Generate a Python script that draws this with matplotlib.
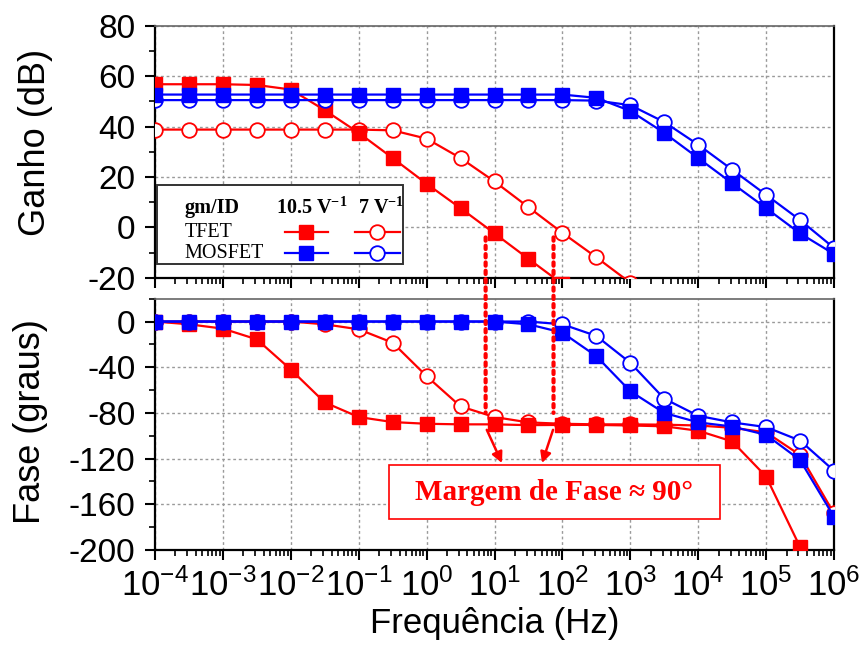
import matplotlib
matplotlib.use("Agg")
import matplotlib.pyplot as plt
from matplotlib.ticker import MultipleLocator, LogLocator, NullFormatter
from matplotlib.patches import Rectangle, ConnectionPatch
from matplotlib.lines import Line2D

plt.rcParams['font.family'] = ['Liberation Sans', 'DejaVu Sans']
plt.rcParams['axes.unicode_minus'] = False

# Frequency grid (Hz), half-decade steps
freq = [1e-4, 3.16e-4, 1e-3, 3.16e-3, 1e-2, 3.16e-2, 1e-1, 3.16e-1, 1, 3.16,
        10, 31.6, 100, 316, 1e3, 3.16e3, 1e4, 3.16e4, 1e5, 3.16e5, 1e6]

# Gain (dB)
gain_tfet_105 = [56.8, 56.8, 56.8, 56.5, 54.7, 46.5, 37.5, 27.5, 17.3, 7.6,
                 -2.4, -12.5, -22.5]
gain_tfet_7 = [38.8, 38.8, 38.8, 38.8, 38.8, 38.8, 38.8, 38.5, 35.2, 27.5,
               18.2, 8.0, -2.2, -11.9, -22.0]
gain_mos_105 = [52.7, 52.7, 52.7, 52.7, 52.7, 52.7, 52.7, 52.7, 52.7, 52.7,
                52.7, 52.7, 52.7, 51.4, 46.2, 37.5, 27.5, 17.5, 7.6, -2.4, -10.6]
gain_mos_7 = [50.5, 50.5, 50.5, 50.5, 50.5, 50.5, 50.5, 50.5, 50.5, 50.5,
              50.5, 50.5, 50.5, 50.3, 48.5, 41.8, 32.8, 22.9, 12.9, 2.9, -8.2]

# Phase (degrees)
phase_tfet_105 = [0, -2.4, -6.2, -15.6, -42.0, -70.8, -83.6, -88.0, -89.5, -90.0,
                  -90.0, -90.7, -90.5, -90.5, -91.0, -91.7, -95.6, -104.9, -135.7, -197.3]
phase_tfet_7 = [0, 0, 0, 0, 0, -2.4, -6.8, -18.5, -47.8, -74.3,
                -83.6, -88.3, -89.5, -90.0, -90.0, -90.3, -91.0, -93.0, -97.0, -116.8, -168.0]
phase_mos_105 = [0, 0, 0, 0, 0, 0, 0, 0, 0, 0,
                 0, -2.4, -9.7, -30.3, -61.0, -80.0, -88.3, -91.9, -99.2, -121.2, -171.0]
phase_mos_7 = [0, 0, 0, 0, 0, 0, 0, 0, 0, 0,
               0, 0, -2.4, -12.6, -36.1, -67.5, -82.5, -88.3, -92.4, -104.2, -130.6]

# Unity-gain frequencies marked on the chart (Hz)
unity_freq = [7.4, 74]

RED = '#ff0000'
BLUE = '#0000ff'
LW = 1.6
MS_SQ = 9.5
MS_CI = 10.5

fig = plt.figure(figsize=(8.64, 6.48), dpi=100)
W, H = 864.0, 648.0
ax1 = fig.add_axes([155 / W, 1 - 277.7 / H, 679 / W, 251.9 / H])
ax2 = fig.add_axes([155 / W, 1 - 550 / H, 679 / W, 251.3 / H])


def series(ax, y, color, filled):
    x = freq[:len(y)]
    if filled:
        ax.plot(x, y, color=color, lw=LW, marker='s', ms=MS_SQ,
                mfc=color, mec=color, zorder=3)
    else:
        ax.plot(x, y, color=color, lw=LW, marker='o', ms=MS_CI,
                mfc='white', mec=color, mew=1.3, zorder=3)


for ax, data in ((ax1, (gain_tfet_7, gain_tfet_105, gain_mos_7, gain_mos_105)),
                 (ax2, (phase_tfet_7, phase_tfet_105, phase_mos_7, phase_mos_105))):
    series(ax, data[0], RED, False)
    series(ax, data[1], RED, True)
    series(ax, data[2], BLUE, False)
    series(ax, data[3], BLUE, True)

for ax in (ax1, ax2):
    ax.set_xscale('log')
    ax.set_xlim(1e-4, 1e6)
    ax.xaxis.set_major_locator(LogLocator(base=10, numticks=20))
    ax.xaxis.set_minor_locator(LogLocator(base=10, subs=range(2, 10), numticks=200))
    ax.xaxis.set_minor_formatter(NullFormatter())
    ax.grid(True, which='major', color='#9a9a9a', linestyle=(0, (2, 2)), linewidth=1.0)
    ax.set_axisbelow(True)
    ax.tick_params(which='major', direction='out', length=7, width=1.5,
                   top=False, right=False, pad=6)
    ax.tick_params(which='minor', direction='out', length=4, width=1.2,
                   top=False, right=False)
    ax.tick_params(axis='y', labelsize=24, pad=7)
    ax.tick_params(axis='x', labelsize=25)
    for s in ('left', 'bottom', 'right'):
        ax.spines[s].set_linewidth(1.6)
        ax.spines[s].set_color('black')
    ax.spines['top'].set_linewidth(1.2)
    ax.spines['top'].set_color('#666666')

ax1.set_ylim(-20, 80)
ax1.yaxis.set_major_locator(MultipleLocator(20))
ax1.yaxis.set_minor_locator(MultipleLocator(10))
ax1.tick_params(axis='x', labelbottom=False)

ax2.set_ylim(-200, 20)
ax2.yaxis.set_major_locator(MultipleLocator(40))
ax2.yaxis.set_minor_locator(MultipleLocator(20))

fig.text(36 / W, 1 - 142 / H, 'Ganho (dB)', rotation=90, ha='center', va='center', fontsize=26)
fig.text(31 / W, 1 - 422 / H, 'Fase (graus)', rotation=90, ha='center', va='center', fontsize=26)
fig.text(495 / W, 1 - 624 / H, 'Frequência (Hz)', ha='center', va='center', fontsize=25)

# Legend box drawn inside the gain axes
serif = ['Liberation Serif', 'DejaVu Serif']
ax1.add_patch(Rectangle((0.003, 0.054), 0.362, 0.314, transform=ax1.transAxes,
                        facecolor='white', edgecolor='#333333', lw=1.4, zorder=5))
ax1.text(0.044, 0.277, 'gm/ID', transform=ax1.transAxes, family=serif,
         fontweight='bold', fontsize=14.5, ha='left', va='center', zorder=6)
ax1.text(0.231, 0.277, r'10.5 V$^{\mathdefault{-1}}$', transform=ax1.transAxes, family=serif,
         fontweight='bold', fontsize=14.5, ha='center', va='center', zorder=6)
ax1.text(0.333, 0.277, r'7 V$^{\mathdefault{-1}}$', transform=ax1.transAxes, family=serif,
         fontweight='bold', fontsize=14.5, ha='center', va='center', zorder=6)
ax1.text(0.044, 0.181, 'TFET', transform=ax1.transAxes, family=serif,
         fontsize=14.5, ha='left', va='center', zorder=6)
ax1.text(0.044, 0.098, 'MOSFET', transform=ax1.transAxes, family=serif,
         fontsize=14.5, ha='left', va='center', zorder=6)
for yrow, color in ((0.181, RED), (0.098, BLUE)):
    ax1.add_line(Line2D([0.191, 0.255], [yrow, yrow], transform=ax1.transAxes, color=color,
                        lw=LW, zorder=6))
    ax1.add_line(Line2D([0.223], [yrow], transform=ax1.transAxes, marker='s', ms=MS_SQ,
                        mfc=color, mec=color, zorder=7))
    ax1.add_line(Line2D([0.295, 0.361], [yrow, yrow], transform=ax1.transAxes, color=color,
                        lw=LW, zorder=6))
    ax1.add_line(Line2D([0.327], [yrow], transform=ax1.transAxes, marker='o', ms=MS_CI,
                        mfc='white', mec=color, mew=1.3, zorder=7))

# Dotted markers linking unity-gain frequency to the phase curve
for fc in unity_freq:
    con = ConnectionPatch(xyA=(fc, -4), coordsA=ax1.transData,
                          xyB=(fc, -80), coordsB=ax2.transData,
                          color=RED, lw=3.0, linestyle=(0, (0.8, 1.2)), zorder=4)
    fig.add_artist(con)

# Arrows pointing to the phase-margin label
ax2.annotate('', xy=(12.9, -123.9), xytext=(7.7, -94.8),
             arrowprops=dict(arrowstyle='-|>', color=RED, lw=1.8, mutation_scale=16,
                             shrinkA=0, shrinkB=0), zorder=6)
ax2.annotate('', xy=(50.1, -123.9), xytext=(72.8, -94.8),
             arrowprops=dict(arrowstyle='-|>', color=RED, lw=1.8, mutation_scale=16,
                             shrinkA=0, shrinkB=0), zorder=6)

ax2.add_patch(Rectangle((0.3446, 0.1234), 0.4874, 0.2146, transform=ax2.transAxes,
                        facecolor='white', edgecolor=RED, lw=1.2, zorder=5))
ax2.text(0.5883, 0.2307, 'Margem de Fase ≈ 90°', transform=ax2.transAxes, family=serif,
         fontweight='bold', fontsize=21, color=RED, ha='center', va='center', zorder=6)

fig.savefig('out.png', dpi=100)
